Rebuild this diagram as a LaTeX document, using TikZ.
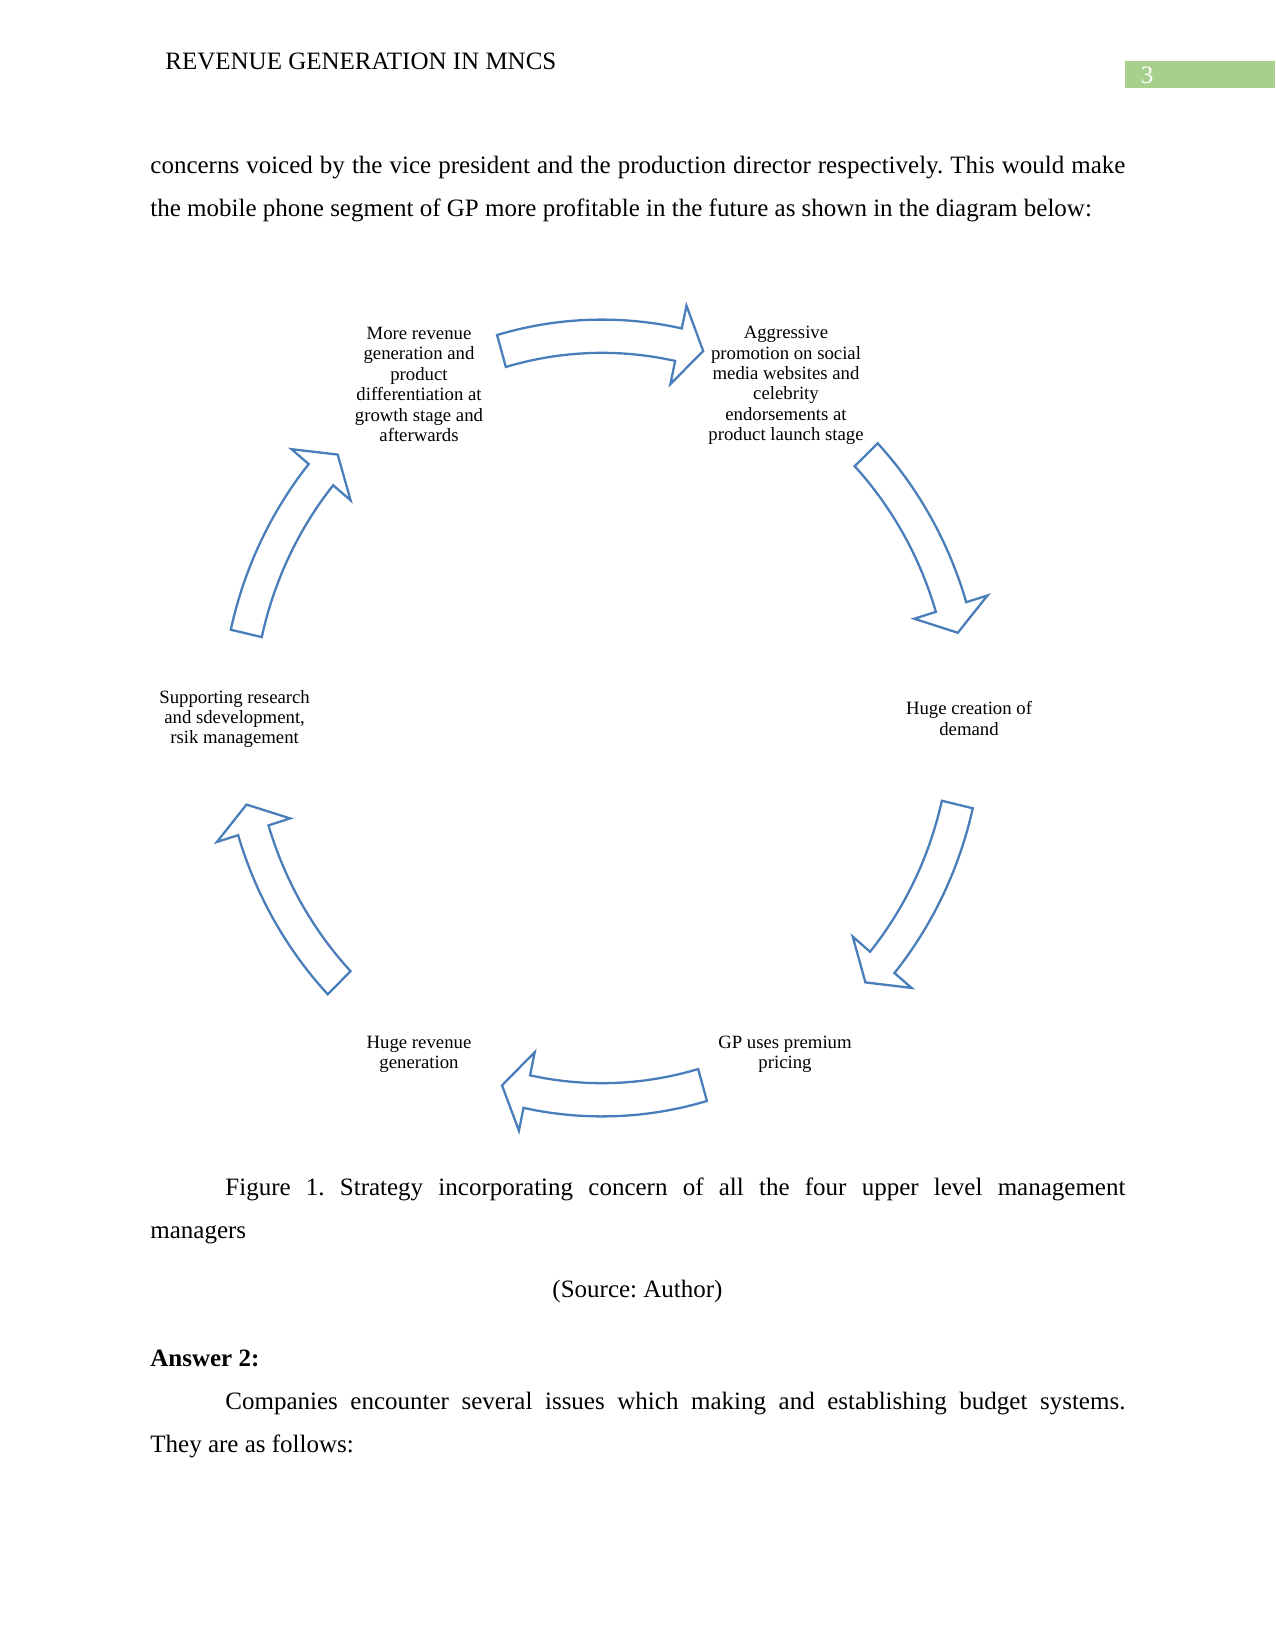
\documentclass[tikz,border=0pt]{standalone}
\usepackage{fontspec}
\setmainfont{Liberation Serif}
\frenchspacing
\definecolor{arrowblue}{RGB}{74,126,187}
\definecolor{pagegreen}{RGB}{168,208,141}
\tikzset{
  cyclearrowstyle/.style={draw=arrowblue, fill=white, line width=1.1pt, line join=miter},
  ctext/.style={align=center, font=\fontsize{9}{9.8}\selectfont, inner sep=0pt},
  bodytext/.style={anchor=base west, inner sep=0pt, font=\fontsize{12}{14}\selectfont},
}
\newcommand\cyclearrow[2]{%
  \pgfmathsetmacro\headbase{#2+4}%
  \draw[cyclearrowstyle] plot[domain=#1:\headbase,samples=30] (\x:1.043)
    -- (\headbase:1.104) -- (#2:1) -- (\headbase:0.894)
    -- plot[domain=\headbase:#1,samples=30] (\x:0.956) -- cycle;}
\begin{document}
\begin{tikzpicture}[x=0.48pt,y=-0.48pt]
\useasboundingbox[fill=white] (0,0) rectangle (1275,1650);
% header
\node[bodytext] (header) at (165,69.5) {REVENUE GENERATION IN MNCS};
\fill[pagegreen] (1124.6,61) rectangle (1275,88.4);
\node[inner sep=0pt, font=\fontsize{12}{14}\selectfont, text=white] (pagenum) at (1147,75.5) {3};
% body text
\node[bodytext] (line1) at (150,173.5) {\hbox to 468pt{concerns voiced by the vice president and the production director respectively. This would make}};
\node[bodytext] (line2) at (150,216.9) {the mobile phone segment of GP more profitable in the future as shown in the diagram below:};
% cycle arrows
\begin{scope}[shift={(602,718)}, xscale=365, yscale=-382]
\cyclearrow{106}{73.9}
\cyclearrow{43.6}{12.9}
\cyclearrow{-13.1}{-43.8}
\cyclearrow{-74}{-105.9}
\cyclearrow{-136.1}{-166.9}
\cyclearrow{167.2}{136.4}
\end{scope}
% cycle texts
\node[ctext] (n1) at (419,384.5) {More revenue\\generation and\\product\\differentiation at\\growth stage and\\afterwards};
\node[ctext] (n2) at (786,385.5) {Aggressive\\promotion on social\\media websites and\\celebrity\\endorsements at\\product launch stage};
\node[ctext] (n3) at (969,718.5) {Huge creation of\\demand};
\node[ctext] (n4) at (785,1054.5) {GP uses premium\\pricing};
\node[ctext] (n5) at (419,1054.5) {Huge revenue\\generation};
\node[ctext] (n6) at (234.6,719) {Supporting research\\and sdevelopment,\\rsik management};
% caption and following text
\node[bodytext] (cap1) at (225,1195.5) {\hbox to 432pt{Figure 1. Strategy incorporating concern of all the four upper level management}};
\node[bodytext] (cap2) at (150,1238.7) {managers};
\node[bodytext, anchor=base] (source) at (637.5,1297.2) {(Source: Author)};
\node[bodytext] (ans) at (150,1366) {\textbf{Answer 2:}};
\node[bodytext] (para1) at (225,1409.4) {\hbox to 432pt{Companies encounter several issues which making and establishing budget systems.}};
\node[bodytext] (para2) at (150,1452.1) {They are as follows:};
\end{tikzpicture}
\end{document}
